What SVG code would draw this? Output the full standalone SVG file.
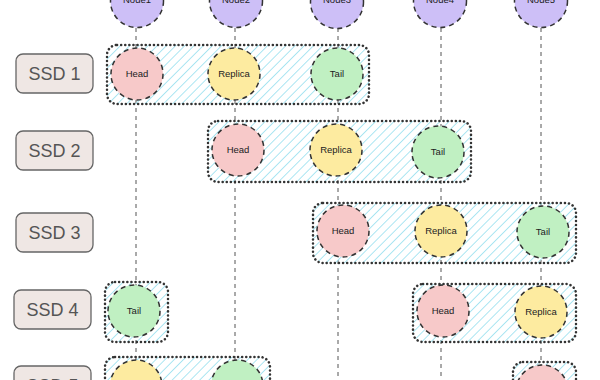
<svg xmlns="http://www.w3.org/2000/svg" width="600" height="380" viewBox="0 0 600 380">
<defs>
<pattern id="hatch" patternUnits="userSpaceOnUse" width="6.5" height="6.5" patternTransform="rotate(45)">
<line x1="0" y1="0" x2="0" y2="6.5" stroke="#a3e3f1" stroke-width="1.8"/>
</pattern>
<style>
.vline{stroke:#555;stroke-width:1;stroke-dasharray:4 4;fill:none}
.grp{fill:url(#hatch);stroke:#333;stroke-width:2.5;stroke-dasharray:0.1 4;stroke-linecap:round}
.c{stroke:#333;stroke-width:1.5;stroke-dasharray:5 4}
.node{fill:#cdbff7}
.head{fill:#f7c9c9}
.rep{fill:#fdeba0}
.tail{fill:#c0f0c2}
.t{font-family:"Liberation Sans",sans-serif;font-size:9.5px;fill:#222;text-anchor:middle}
.ssd rect{fill:#efe7e4;stroke:#666;stroke-width:1.3}
.ssd text{font-family:"Liberation Sans",sans-serif;font-size:18px;fill:#555;text-anchor:middle}
</style>
</defs>
<rect width="600" height="380" fill="#fff"/>
<g id="connectors">
<line class="vline" x1="136" y1="28" x2="136" y2="380"/>
<line class="vline" x1="235" y1="28" x2="235" y2="380"/>
<line class="vline" x1="338" y1="28" x2="338" y2="380"/>
<line class="vline" x1="441" y1="28" x2="441" y2="380"/>
<line class="vline" x1="541" y1="28" x2="541" y2="380"/>
</g>
<g id="ssd-labels">
<g id="ssd1" class="ssd"><rect x="16" y="54" width="77" height="39" rx="7"/><text x="54.5" y="80">SSD 1</text></g>
<g id="ssd2" class="ssd"><rect x="16" y="131" width="77" height="39" rx="7"/><text x="54.5" y="157">SSD 2</text></g>
<g id="ssd3" class="ssd"><rect x="16" y="213" width="77" height="39" rx="7"/><text x="54.5" y="239">SSD 3</text></g>
<g id="ssd4" class="ssd"><rect x="14" y="290" width="77" height="39" rx="7"/><text x="52.5" y="316">SSD 4</text></g>
<g id="ssd5" class="ssd"><rect x="14" y="366" width="77" height="39" rx="7"/><text x="52.5" y="392">SSD 5</text></g>
</g>
<g id="groups">
<rect id="g1" class="grp" x="107" y="45" width="262" height="59" rx="10"/>
<rect id="g2" class="grp" x="208" y="121" width="263" height="61" rx="10"/>
<rect id="g3" class="grp" x="313" y="203" width="263" height="60" rx="10"/>
<rect id="g4a" class="grp" x="105" y="282" width="63" height="60" rx="10"/>
<rect id="g4b" class="grp" x="413" y="284" width="163" height="58" rx="10"/>
<rect id="g5a" class="grp" x="105" y="357" width="165" height="60" rx="10"/>
<rect id="g5b" class="grp" x="513" y="362" width="63" height="60" rx="10"/>
</g>
<g id="nodes">
<g id="node1"><circle class="c node" cx="137" cy="1" r="26.5"/><text class="t" x="137" y="3">Node1</text></g>
<g id="node2"><circle class="c node" cx="236" cy="1" r="26.5"/><text class="t" x="236" y="3">Node2</text></g>
<g id="node3"><circle class="c node" cx="337" cy="2" r="26.5"/><text class="t" x="337" y="3">Node3</text></g>
<g id="node4"><circle class="c node" cx="440" cy="1" r="26.5"/><text class="t" x="440" y="3">Node4</text></g>
<g id="node5"><circle class="c node" cx="541" cy="1" r="26.5"/><text class="t" x="541" y="3">Node5</text></g>
</g>
<g id="row1">
<g id="r1-head"><circle class="c head" cx="137" cy="74" r="26"/><text class="t" x="137" y="77">Head</text></g>
<g id="r1-rep"><circle class="c rep" cx="234" cy="74" r="26"/><text class="t" x="234" y="77">Replica</text></g>
<g id="r1-tail"><circle class="c tail" cx="337" cy="74" r="26"/><text class="t" x="337" y="77">Tail</text></g>
</g>
<g id="row2">
<g id="r2-head"><circle class="c head" cx="238" cy="150" r="26"/><text class="t" x="238" y="153">Head</text></g>
<g id="r2-rep"><circle class="c rep" cx="336" cy="150" r="26"/><text class="t" x="336" y="153">Replica</text></g>
<g id="r2-tail"><circle class="c tail" cx="438" cy="152" r="26"/><text class="t" x="438" y="155">Tail</text></g>
</g>
<g id="row3">
<g id="r3-head"><circle class="c head" cx="343" cy="231" r="26"/><text class="t" x="343" y="234">Head</text></g>
<g id="r3-rep"><circle class="c rep" cx="441" cy="231" r="26"/><text class="t" x="441" y="234">Replica</text></g>
<g id="r3-tail"><circle class="c tail" cx="543" cy="232" r="26"/><text class="t" x="543" y="235">Tail</text></g>
</g>
<g id="row4">
<g id="r4-tail"><circle class="c tail" cx="134" cy="311" r="26"/><text class="t" x="134" y="314">Tail</text></g>
<g id="r4-head"><circle class="c head" cx="443" cy="311" r="26"/><text class="t" x="443" y="314">Head</text></g>
<g id="r4-rep"><circle class="c rep" cx="541" cy="312" r="26"/><text class="t" x="541" y="315">Replica</text></g>
</g>
<g id="row5">
<g id="r5-rep"><circle class="c rep" cx="136" cy="386" r="26"/></g>
<g id="r5-tail"><circle class="c tail" cx="237" cy="386" r="26"/></g>
<g id="r5-head"><circle class="c head" cx="542" cy="391" r="26"/></g>
</g>
</svg>
